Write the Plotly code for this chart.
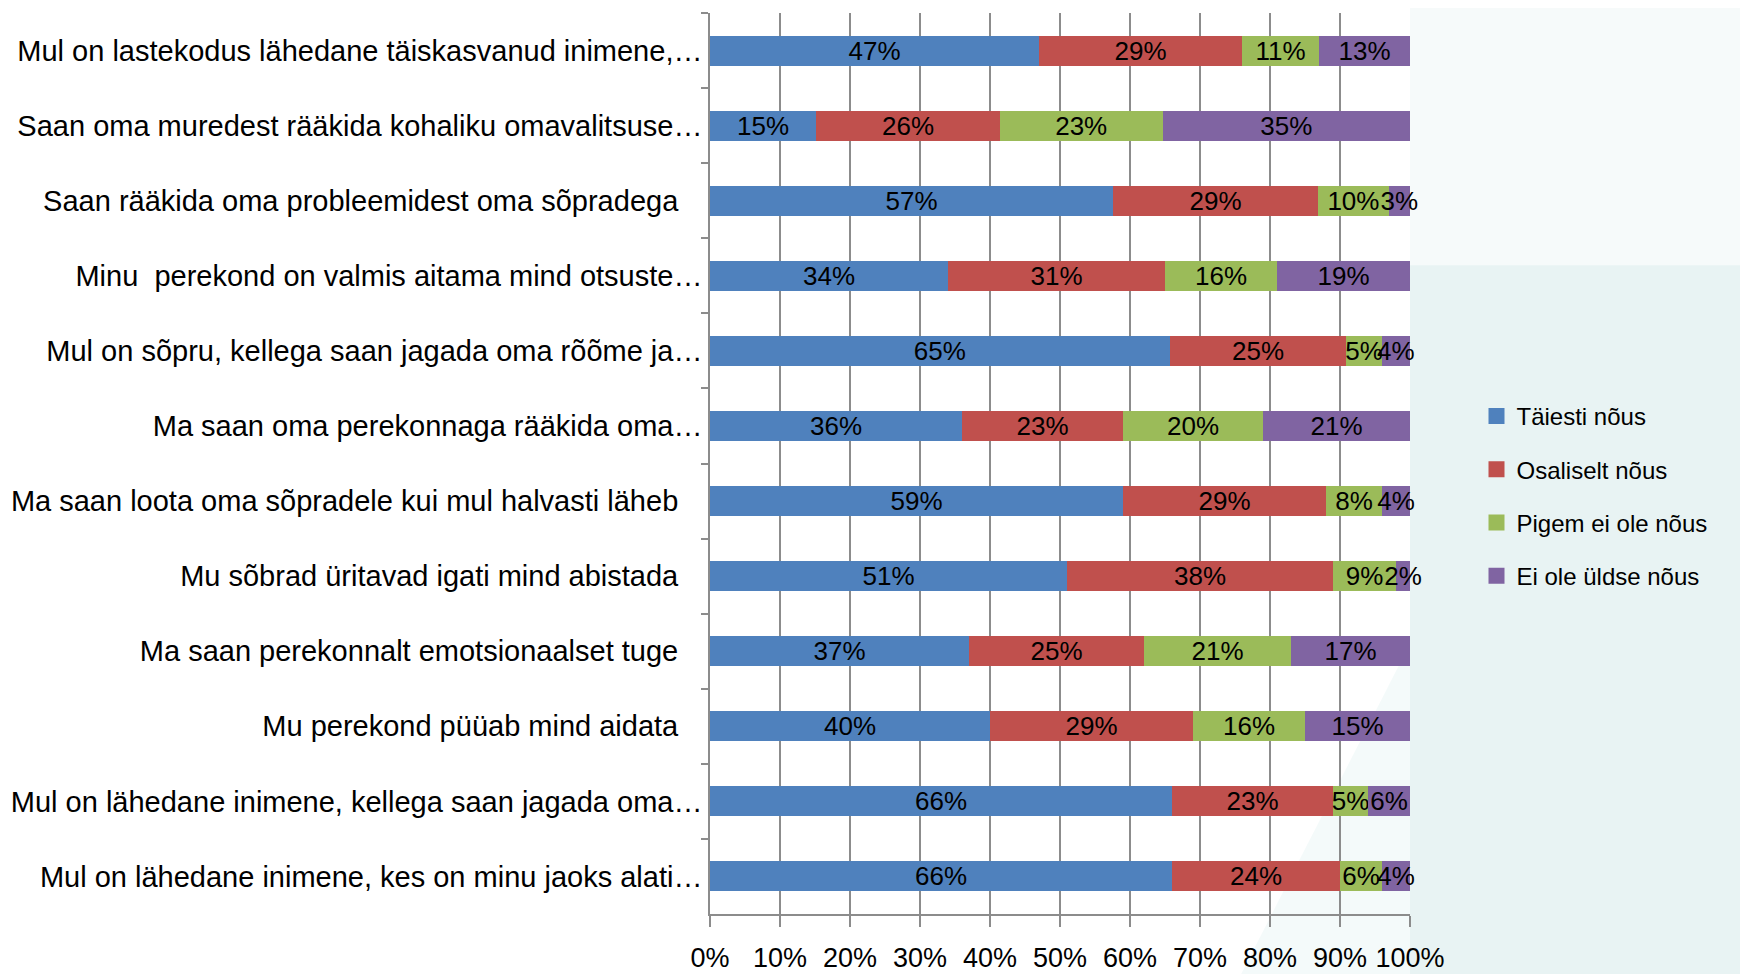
import plotly.graph_objects as go

BLUE = "#4F81BD"
RED = "#C0504D"
GREEN = "#9BBB59"
PURPLE = "#8064A2"
GRID = "#8C8C8C"
FONT = "Liberation Sans, Arial, sans-serif"

NB = "\u00a0"

categories = [
    "Mul on lastekodus lähedane täiskasvanud inimene,…",
    "Saan oma muredest rääkida kohaliku omavalitsuse…",
    "Saan rääkida oma probleemidest oma sõpradega" + NB * 3,
    "Minu" + NB + " perekond on valmis aitama mind otsuste…",
    "Mul on sõpru, kellega saan jagada oma rõõme ja…",
    "Ma saan oma perekonnaga rääkida oma…",
    "Ma saan loota oma sõpradele kui mul halvasti läheb" + NB * 3,
    "Mu sõbrad üritavad igati mind abistada" + NB * 3,
    "Ma saan perekonnalt emotsionaalset tuge" + NB * 3,
    "Mu perekond püüab mind aidata" + NB * 3,
    "Mul on lähedane inimene, kellega saan jagada oma…",
    "Mul on lähedane inimene, kes on minu jaoks alati…",
]

taiesti = [47, 15, 57, 34, 65, 36, 59, 51, 37, 40, 66, 66]
osaliselt = [29, 26, 29, 31, 25, 23, 29, 38, 25, 29, 23, 24]
pigem_ei = [11, 23, 10, 16, 5, 20, 8, 9, 21, 16, 5, 6]
ei_uldse = [13, 35, 3, 19, 4, 21, 4, 2, 17, 15, 6, 4]

series = [
    ("Täiesti nõus", taiesti, BLUE),
    ("Osaliselt nõus", osaliselt, RED),
    ("Pigem ei ole nõus", pigem_ei, GREEN),
    ("Ei ole üldse nõus", ei_uldse, PURPLE),
]

x_ticks = [0, 10, 20, 30, 40, 50, 60, 70, 80, 90, 100]

fig = go.Figure()
for name, vals, color in series:
    fig.add_trace(
        go.Bar(
            y=categories,
            x=vals,
            name=name,
            orientation="h",
            marker=dict(color=color, line=dict(width=0)),
            text=[f"{v}%" for v in vals],
            textposition="inside",
            insidetextanchor="middle",
            textangle=0,
            constraintext="none",
            textfont=dict(family=FONT, size=26, color="black"),
            cliponaxis=False,
            showlegend=False,
            hoverinfo="skip",
        )
    )

# legend entries with bigger square swatches than bar legends allow
for name, vals, color in series:
    fig.add_trace(
        go.Scatter(
            x=[None],
            y=[None],
            mode="markers",
            name=name,
            legendgroup=name,
            marker=dict(symbol="square", size=16, color=color),
            hoverinfo="skip",
        )
    )

# faint teal wash of the slide template on the right
bg_shapes = [
    dict(type="rect", xref="paper", yref="paper", x0=1.0, x1=1.5, y0=-0.08, y1=0.72,
         fillcolor="rgba(214,234,234,0.55)", line=dict(width=0), layer="below"),
    dict(type="rect", xref="paper", yref="paper", x0=1.0, x1=1.5, y0=0.72, y1=1.02,
         fillcolor="rgba(226,240,240,0.3)", line=dict(width=0), layer="below"),
    dict(type="path", xref="paper", yref="paper",
         path="M 0.75,-0.08 L 1.0,-0.08 L 1.0,0.3 Z",
         fillcolor="rgba(220,238,238,0.3)", line=dict(width=0), layer="below"),
]

fig.update_layout(
    width=1740,
    height=966,
    barmode="stack",
    barnorm="percent",
    bargap=0.6,
    margin=dict(l=702, r=338, t=5, b=60),
    paper_bgcolor="white",
    plot_bgcolor="rgba(0,0,0,0)",
    font=dict(family=FONT, size=22, color="black"),
    uniformtext=dict(mode="show", minsize=26),
    shapes=bg_shapes,
    showlegend=True,
    legend=dict(
        x=1.095,
        y=0.464,
        xanchor="left",
        yanchor="middle",
        traceorder="grouped",
        tracegroupgap=19,
        font=dict(family=FONT, size=24, color="black"),
        bgcolor="rgba(0,0,0,0)",
        itemclick=False,
    ),
    xaxis=dict(
        range=[0, 100.001],
        tickmode="array",
        tickvals=x_ticks,
        ticktext=[f"{t}%" for t in x_ticks],
        showgrid=True,
        gridcolor=GRID,
        gridwidth=1.5,
        showline=True,
        linecolor=GRID,
        linewidth=2,
        ticks="outside",
        ticklen=11,
        tickwidth=1.5,
        tickcolor=GRID,
        ticklabelstandoff=8,
        zeroline=False,
        tickfont=dict(family=FONT, size=27),
        automargin=False,
    ),
    yaxis=dict(
        autorange="reversed",
        showgrid=False,
        showline=True,
        linecolor=GRID,
        linewidth=1.5,
        ticks="outside",
        tickson="boundaries",
        ticklen=7,
        tickwidth=1.5,
        tickcolor=GRID,
        tickfont=dict(family=FONT, size=29),
        automargin=False,
    ),
)

fig.write_html("out.html")
